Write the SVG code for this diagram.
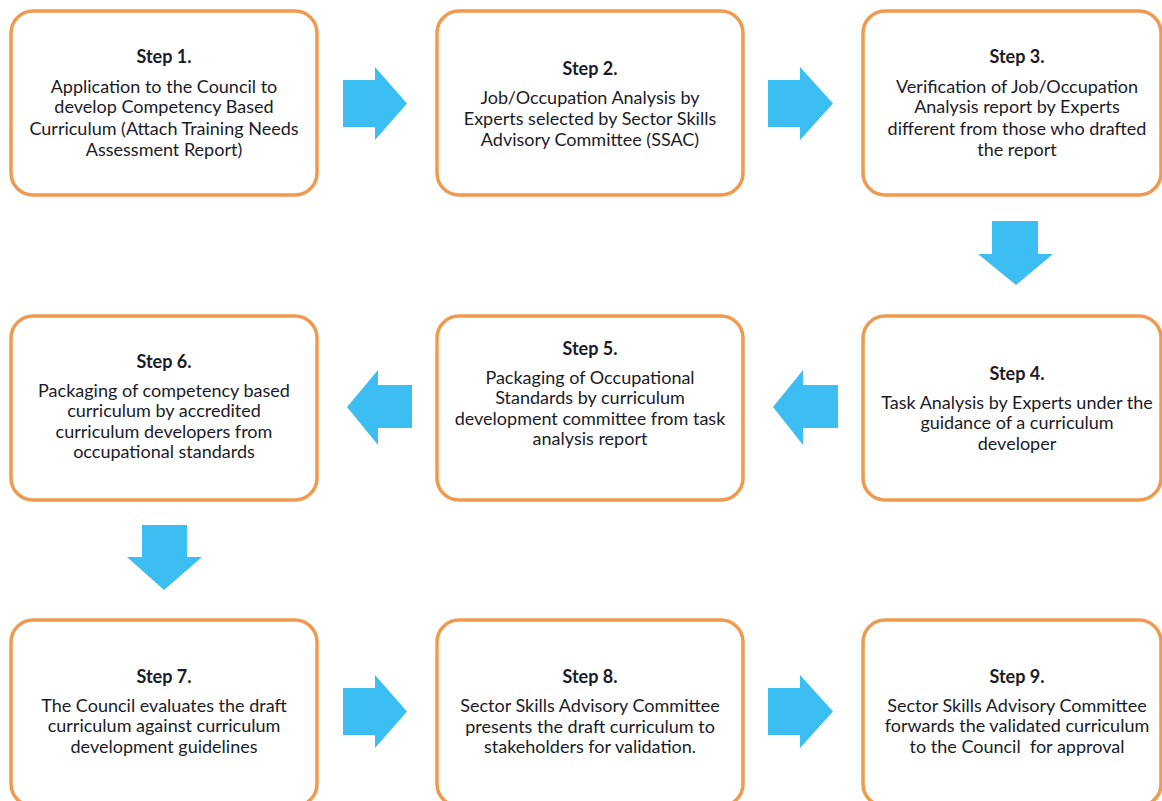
<svg xmlns="http://www.w3.org/2000/svg" width="1162" height="801" viewBox="0 0 1162 801">
<style>
.box{fill:#fff;stroke:#EF9A4E;stroke-width:3.5}
.arr{fill:#3DBEF2}
text{font-family:Lato,"Liberation Sans",sans-serif;font-size:18px;fill:#1b1b28;text-anchor:middle}
.t{font-weight:bold}
</style>
<rect width="1162" height="801" fill="#fff"/>
<g id="step1"><rect class="box" x="11" y="11" width="306" height="184" rx="22"/>
<text class="t" x="164" y="63">Step 1.</text>
<text x="164" y="93">Application to the Council to</text>
<text x="164" y="113">develop Competency Based</text>
<text x="164" y="135">Curriculum (Attach Training Needs</text>
<text x="164" y="156">Assessment Report)</text></g>
<g id="step2"><rect class="box" x="437" y="11" width="306" height="184" rx="22"/>
<text class="t" x="590" y="75">Step 2.</text>
<text x="590" y="104">Job/Occupation Analysis by</text>
<text x="590" y="125">Experts selected by Sector Skills</text>
<text x="590" y="146">Advisory Committee (SSAC)</text></g>
<g id="step3"><rect class="box" x="863" y="11" width="298" height="184" rx="22"/>
<text class="t" x="1017" y="63">Step 3.</text>
<text x="1017" y="93">Verification of Job/Occupation</text>
<text x="1017" y="113">Analysis report by Experts</text>
<text x="1017" y="135">different from those who drafted</text>
<text x="1017" y="156">the report</text></g>
<g id="step4"><rect class="box" x="863" y="316" width="298" height="184" rx="22"/>
<text class="t" x="1017" y="380">Step 4.</text>
<text x="1017" y="409">Task Analysis by Experts under the</text>
<text x="1017" y="429">guidance of a curriculum</text>
<text x="1017" y="450">developer</text></g>
<g id="step5"><rect class="box" x="437" y="316" width="306" height="184" rx="22"/>
<text class="t" x="590" y="355">Step 5.</text>
<text x="590" y="384">Packaging of Occupational</text>
<text x="590" y="404">Standards by curriculum</text>
<text x="590" y="425">development committee from task</text>
<text x="590" y="445">analysis report</text></g>
<g id="step6"><rect class="box" x="11" y="316" width="306" height="184" rx="22"/>
<text class="t" x="164" y="368">Step 6.</text>
<text x="164" y="397">Packaging of competency based</text>
<text x="164" y="417">curriculum by accredited</text>
<text x="164" y="438">curriculum developers from</text>
<text x="164" y="458">occupational standards</text></g>
<g id="step7"><rect class="box" x="11" y="620" width="306" height="186" rx="22"/>
<text class="t" x="164" y="683">Step 7.</text>
<text x="164" y="712">The Council evaluates the draft</text>
<text x="164" y="732">curriculum against curriculum</text>
<text x="164" y="753">development guidelines</text></g>
<g id="step8"><rect class="box" x="437" y="620" width="306" height="186" rx="22"/>
<text class="t" x="590" y="683">Step 8.</text>
<text x="590" y="712">Sector Skills Advisory Committee</text>
<text x="590" y="733">presents the draft curriculum to</text>
<text x="590" y="753">stakeholders for validation.</text></g>
<g id="step9"><rect class="box" x="863" y="620" width="298" height="186" rx="22"/>
<text class="t" x="1017" y="683">Step 9.</text>
<text x="1017" y="712">Sector Skills Advisory Committee</text>
<text x="1017" y="732">forwards the validated curriculum</text>
<text x="1017" y="753" style="white-space:pre">to the Council  for approval</text></g>
<g id="connectors">
<polygon class="arr" points="343,80 375,80 375,67 407,103.5 375,140 375,127 343,127"/>
<polygon class="arr" points="768,80 800,80 800,67 833,103.5 800,140 800,127 768,127"/>
<polygon class="arr" points="992,221 1038,221 1038,254 1053,254 1016,285 978,254 992,254"/>
<polygon class="arr" points="838,385 803,385 803,370 773,407 803,445 803,428 838,428"/>
<polygon class="arr" points="412,385 378,385 378,370 347,407 378,445 378,428 412,428"/>
<polygon class="arr" points="142,525 187,525 187,557 202,557 164,590 127,557 142,557"/>
<polygon class="arr" points="343,688 375,688 375,675 407,711.5 375,748 375,735 343,735"/>
<polygon class="arr" points="768,688 800,688 800,675 833,711.5 800,748 800,735 768,735"/>
</g>
</svg>
